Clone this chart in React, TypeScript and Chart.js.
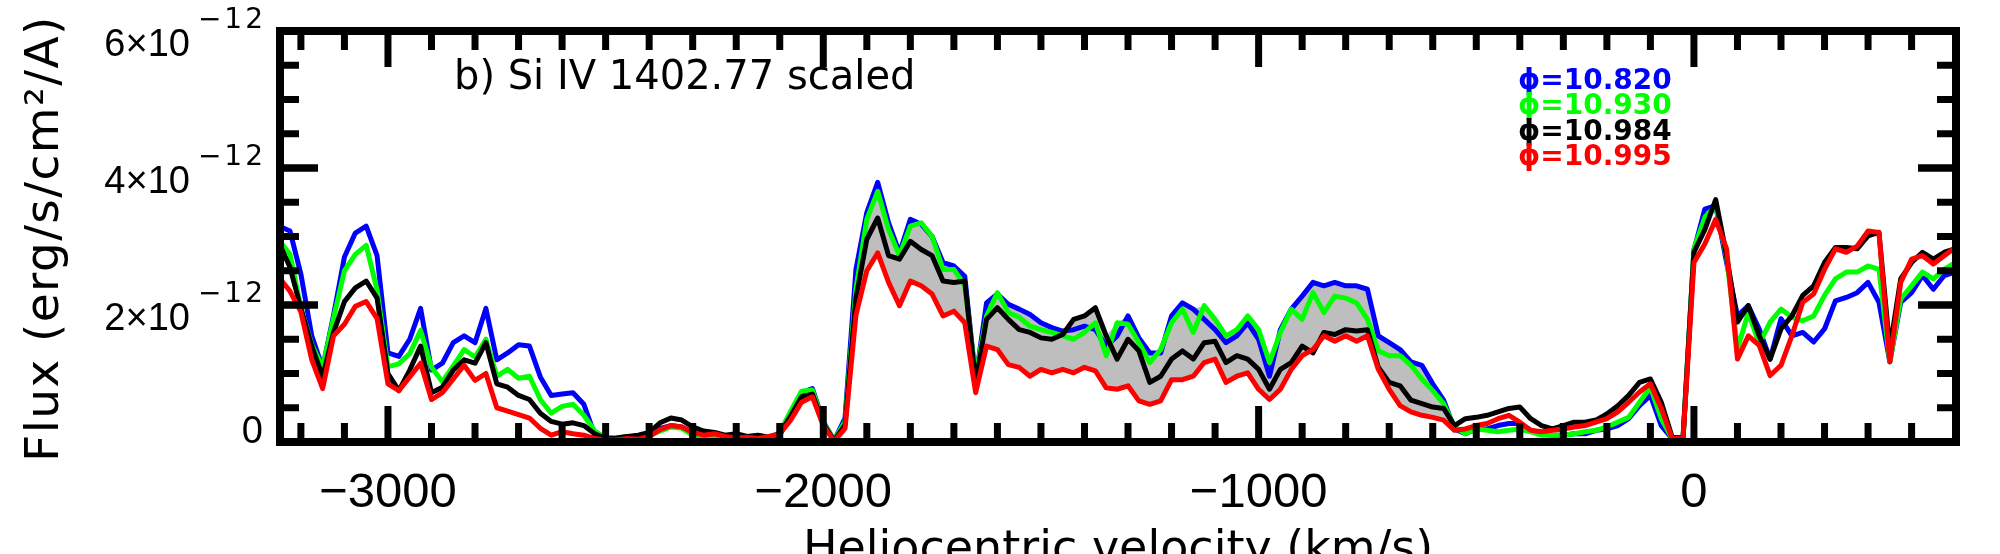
import React, { useEffect, useRef } from "react";
import { Chart, registerables } from "chart.js";

Chart.register(...registerables);

// Heliocentric velocity grid (km/s)
const VELOCITY = [
  -3250, -3225, -3200, -3175, -3150, -3125, -3100, -3075, -3050, -3025,
  -3000, -2975, -2950, -2925, -2900, -2875, -2850, -2825, -2800, -2775,
  -2750, -2725, -2700, -2675, -2650, -2625, -2600, -2575, -2550, -2525,
  -2500, -2475, -2450, -2425, -2400, -2375, -2350, -2325, -2300, -2275,
  -2250, -2225, -2200, -2175, -2150, -2125, -2100, -2075, -2050, -2025,
  -2000, -1975, -1950, -1925, -1900, -1875, -1850, -1825, -1800, -1775,
  -1750, -1725, -1700, -1675, -1650, -1625, -1600, -1575, -1550, -1525,
  -1500, -1475, -1450, -1425, -1400, -1375, -1350, -1325, -1300, -1275,
  -1250, -1225, -1200, -1175, -1150, -1125, -1100, -1075, -1050, -1025,
  -1000, -975, -950, -925, -900, -875, -850, -825, -800, -775,
  -750, -725, -700, -675, -650, -625, -600, -575, -550, -525,
  -500, -475, -450, -425, -400, -375, -350, -325, -300, -275,
  -250, -225, -200, -175, -150, -125, -100, -75, -50, -25,
  0, 25, 50, 75, 100, 125, 150, 175, 200, 225,
  250, 275, 300, 325, 350, 375, 400, 425, 450, 475,
  500, 525, 550, 575, 600,
];

// Flux in units of 1e-12 erg/s/cm^2/A
const FLUX_PHI_10_820 = [
  3.15, 3.08, 2.45, 1.55, 1.08, 1.85, 2.7, 3.05, 3.15, 2.72,
  1.3, 1.25, 1.5, 1.95, 1.05, 1.15, 1.45, 1.55, 1.45, 1.95,
  1.2, 1.3, 1.42, 1.4, 0.95, 0.68, 0.7, 0.72, 0.55, 0.1,
  0.06, 0.05, 0.04, 0.09, 0.12, 0.2, 0.24, 0.22, 0.14, 0.1,
  0.12, 0.07, 0.08, 0.05, 0.06, 0.04, 0.1, 0.42, 0.72, 0.78,
  0.3, 0.02, 0.35, 2.52, 3.35, 3.79, 3.2, 2.76, 3.25, 3.18,
  3.0, 2.62, 2.57, 2.42, 0.9, 2.03, 2.16, 2.01, 1.94, 1.86,
  1.74, 1.67, 1.62, 1.64, 1.69, 1.64, 1.4, 1.55, 1.84, 1.52,
  1.3, 1.3, 1.84, 2.03, 1.94, 1.79, 1.64, 1.45, 1.55, 1.74,
  1.5, 0.96, 1.64, 1.94, 2.13, 2.33, 2.28, 2.33, 2.28, 2.28,
  2.23, 1.55, 1.45, 1.35, 1.17, 1.12, 0.85, 0.61, 0.19, 0.12,
  0.19, 0.19, 0.24, 0.27, 0.27, 0.17, 0.12, 0.1, 0.1, 0.12,
  0.12, 0.17, 0.19, 0.24, 0.34, 0.53, 0.68, 0.24, 0.05, 0.07,
  2.8, 3.4, 3.45, 2.62, 1.84, 1.99, 1.65, 1.21, 1.8, 1.55,
  1.6, 1.46, 1.65, 2.06, 2.11, 2.18, 2.33, 2.04, 1.17, 2.04,
  2.18, 2.43, 2.23, 2.43, 2.48,
];

const FLUX_PHI_10_930 = [
  2.94, 2.74, 1.96, 1.42, 1.09, 1.81, 2.5, 2.74, 2.87, 2.22,
  1.1, 1.14, 1.29, 1.63, 1.09, 0.88, 1.11, 1.35, 1.24, 1.5,
  0.96, 1.06, 0.93, 0.96, 0.62, 0.42, 0.52, 0.55, 0.39, 0.16,
  0.06, 0.06, 0.08, 0.07, 0.1, 0.16, 0.22, 0.2, 0.1, 0.06,
  0.08, 0.06, 0.05, 0.07, 0.05, 0.06, 0.14, 0.45, 0.74, 0.76,
  0.28, 0.03, 0.3, 2.23, 3.25, 3.66, 3.1, 2.72, 3.15, 3.2,
  3.0, 2.52, 2.52, 2.28, 0.96, 1.84, 2.18, 1.89, 1.82, 1.69,
  1.64, 1.6, 1.55, 1.5, 1.6, 1.74, 1.26, 1.74, 1.72, 1.45,
  1.16, 1.35, 1.74, 1.94, 1.6, 1.99, 1.79, 1.55, 1.64, 1.84,
  1.64, 1.16, 1.6, 1.94, 1.79, 2.18, 1.89, 2.13, 2.1, 2.03,
  1.79, 1.33, 1.26, 1.26, 1.12, 0.92, 0.75, 0.56, 0.22, 0.12,
  0.19, 0.17, 0.15, 0.17, 0.19, 0.15, 0.1, 0.1, 0.1, 0.12,
  0.15, 0.17, 0.22, 0.29, 0.36, 0.58, 0.8, 0.34, 0.05, 0.05,
  2.82, 3.28, 3.45, 2.7, 1.36, 1.89, 1.43, 1.75, 1.94, 1.82,
  1.77, 1.84, 2.14, 2.38, 2.48, 2.48, 2.57, 2.52, 1.17, 2.09,
  2.28, 2.48, 2.38, 2.52, 2.62,
];

const FLUX_PHI_10_984 = [
  2.9, 2.55, 1.95, 1.4, 0.95, 1.6, 2.05, 2.25, 2.35, 2.1,
  1.0, 0.75, 1.05, 1.4, 0.72, 0.8, 1.05, 1.2, 1.15, 1.45,
  0.85, 0.8, 0.68, 0.62, 0.42, 0.3, 0.26, 0.28, 0.24, 0.12,
  0.05, 0.06, 0.08, 0.1, 0.14, 0.28, 0.35, 0.32, 0.22, 0.16,
  0.14, 0.1, 0.12, 0.08, 0.1, 0.07, 0.12, 0.38, 0.66, 0.7,
  0.26, 0.02, 0.25, 2.1, 2.96, 3.27, 2.72, 2.67, 2.93, 2.81,
  2.72, 2.35, 2.33, 2.35, 0.87, 1.79, 1.96, 1.79, 1.64, 1.6,
  1.52, 1.5, 1.57, 1.79, 1.84, 1.96, 1.55, 1.21, 1.5, 1.33,
  0.87, 0.96, 1.21, 1.33, 1.21, 1.45, 1.47, 1.16, 1.26, 1.21,
  1.06, 0.77, 1.06, 1.16, 1.4, 1.3, 1.6, 1.57, 1.64, 1.62,
  1.64, 1.09, 0.87, 0.82, 0.61, 0.56, 0.51, 0.49, 0.24, 0.34,
  0.36, 0.39, 0.44, 0.49, 0.51, 0.34, 0.24, 0.19, 0.24, 0.29,
  0.29, 0.32, 0.41, 0.53, 0.68, 0.87, 0.92, 0.58, 0.07, 0.05,
  2.77, 3.1, 3.54, 2.72, 1.75, 1.99, 1.55, 1.21, 1.65, 1.84,
  2.14, 2.28, 2.62, 2.84, 2.84, 2.82, 3.01, 3.06, 1.36, 2.38,
  2.62, 2.77, 2.67, 2.77, 2.82,
];

const FLUX_PHI_10_995 = [
  2.4, 2.2, 1.9, 1.2, 0.78, 1.55, 1.72, 1.98, 2.05, 1.8,
  0.85, 0.75, 0.95, 1.15, 0.62, 0.72, 0.92, 1.12, 0.9, 1.0,
  0.5, 0.45, 0.4, 0.35, 0.2, 0.1, 0.15, 0.12, 0.1, 0.05,
  0.03, 0.03, 0.05, 0.04, 0.08, 0.18, 0.24, 0.22, 0.14, 0.1,
  0.12, 0.08, 0.06, 0.07, 0.05, 0.08, 0.12, 0.32, 0.58, 0.66,
  0.24, 0.01, 0.2, 1.85, 2.5, 2.76, 2.33, 1.99, 2.35, 2.28,
  2.16, 1.84, 1.91, 1.74, 0.72, 1.4, 1.35, 1.13, 1.09, 0.96,
  1.06, 1.01, 1.06, 1.01, 1.09, 1.04, 0.79, 0.77, 0.82, 0.6,
  0.55, 0.6, 0.91, 0.91, 0.96, 1.16, 1.21, 0.87, 0.96, 1.01,
  0.77, 0.62, 0.77, 1.06, 1.26, 1.35, 1.55, 1.47, 1.55, 1.47,
  1.55, 1.06, 0.77, 0.53, 0.44, 0.39, 0.36, 0.32, 0.17, 0.19,
  0.24, 0.27, 0.34, 0.39, 0.29, 0.17, 0.15, 0.17, 0.19, 0.22,
  0.24, 0.29, 0.34, 0.44, 0.58, 0.73, 0.85, 0.49, 0.05, 0.05,
  2.62, 2.89, 3.25, 2.82, 1.21, 1.55, 1.41, 0.97, 1.12, 1.55,
  2.04, 2.16, 2.52, 2.82, 2.77, 2.86, 3.08, 3.06, 1.17, 2.33,
  2.67, 2.72, 2.6, 2.72, 2.84,
];

const PHASE_LABELS = ["\u03d5=10.820", "\u03d5=10.930", "\u03d5=10.984", "\u03d5=10.995"];
const SERIES_COLORS = ["#0000ff", "#00ff00", "#000000", "#ff0000"];

// Shaded band (velocity range, km/s)
const BAND_MIN = -1925;
const BAND_MAX = -550;

// Axes
const X_MIN = -3248;
const X_MAX = 602;
const Y_MIN = 0;
const Y_MAX = 6;
const X_MAJOR_TICKS = [-3000, -2000, -1000, 0];
const X_MINOR_TICKS = [
  -3200, -3100, -3000, -2900, -2800, -2700, -2600, -2500, -2400, -2300, -2200, -2100,
  -2000, -1900, -1800, -1700, -1600, -1500, -1400, -1300, -1200, -1100, -1000,
  -900, -800, -700, -600, -500, -400, -300, -200, -100, 0, 100, 200, 300, 400, 500,
];
const Y_MAJOR_TICKS = [0, 2, 4, 6];
const Y_MINOR_TICKS = [0.5, 1, 1.5, 2, 2.5, 3, 3.5, 4, 4.5, 5, 5.5];
const Y_EXPONENT = "\u221212";

const TITLE = "b) Si IV 1402.77 scaled";
const X_TITLE = "Heliocentric velocity (km/s)";
const Y_TITLE = "Flux (erg/s/cm\u00b2/A)";

const idlPlugin = {
  id: "idlFrame",
  afterDatasetsDraw(chart: any) {
    const { ctx, chartArea: a, scales } = chart;
    const xs = scales.x;
    const ys = scales.y;
    ctx.save();
    ctx.strokeStyle = "#000";
    ctx.fillStyle = "#000";
    ctx.lineCap = "butt";

    const seg = (x1: number, y1: number, x2: number, y2: number) => {
      ctx.beginPath();
      ctx.moveTo(x1, y1);
      ctx.lineTo(x2, y2);
      ctx.stroke();
    };

    ctx.lineWidth = 7;
    for (const v of X_MINOR_TICKS) {
      const px = xs.getPixelForValue(v);
      const len = X_MAJOR_TICKS.includes(v) ? 36 : 19;
      seg(px, a.bottom, px, a.bottom - len);
      seg(px, a.top, px, a.top + len);
    }
    for (const v of [...Y_MINOR_TICKS, ...Y_MAJOR_TICKS]) {
      const py = ys.getPixelForValue(v);
      const len = Y_MAJOR_TICKS.includes(v) ? 38 : 19;
      seg(a.left, py, a.left + len, py);
      seg(a.right, py, a.right - len, py);
    }

    ctx.lineWidth = 8;
    ctx.lineJoin = "miter";
    ctx.strokeRect(a.left, a.top, a.right - a.left, a.bottom - a.top);

    // x tick labels
    ctx.font = "49px 'Liberation Sans'";
    ctx.textAlign = "center";
    ctx.textBaseline = "alphabetic";
    for (const v of X_MAJOR_TICKS) {
      const px = xs.getPixelForValue(v);
      const txt = v < 0 ? "\u2212" + Math.abs(v) : String(v);
      ctx.fillText(txt, px, 507);
    }

    // y tick labels
    const rightEdge = a.left - 17;
    for (const v of Y_MAJOR_TICKS) {
      const py = ys.getPixelForValue(v);
      if (v === 0) {
        ctx.font = "38px 'Liberation Sans'";
        ctx.textAlign = "right";
        ctx.letterSpacing = "0px";
        ctx.fillText("0", rightEdge, py + 1);
        continue;
      }
      ctx.font = "28px 'DejaVu Sans'";
      ctx.letterSpacing = "3px";
      ctx.textAlign = "left";
      const sw = ctx.measureText(Y_EXPONENT).width;
      const sx = rightEdge - sw + 3;
      ctx.fillText(Y_EXPONENT, sx, py - 3);
      ctx.letterSpacing = "0px";
      ctx.font = "38px 'Liberation Sans'";
      ctx.textAlign = "right";
      ctx.fillText(v + "\u00d710", sx - 8, py + 25);
    }

    // Title inside the plot
    ctx.font = "40px 'DejaVu Sans'";
    ctx.textAlign = "left";
    ctx.fillText(TITLE, 454, 89);

    // Legend
    ctx.font = "bold 28px 'DejaVu Sans'";
    const ds = chart.data.datasets.filter((d: any) => d.isSeries);
    ds.forEach((d: any, i: number) => {
      ctx.fillStyle = d.borderColor;
      ctx.fillText(d.label, 1518, 89 + i * 25.3);
    });

    // Axis titles
    ctx.fillStyle = "#000";
    ctx.font = "46px 'DejaVu Sans'";
    ctx.textAlign = "center";
    ctx.fillText(X_TITLE, (a.left + a.right) / 2, 563);

    ctx.save();
    ctx.translate(58, (a.top + a.bottom) / 2 + 2);
    ctx.rotate(-Math.PI / 2);
    ctx.font = "47px 'DejaVu Sans'";
    ctx.letterSpacing = "1.4px";
    ctx.textAlign = "center";
    ctx.fillText(Y_TITLE, 0, 0);
    ctx.restore();

    ctx.restore();
  },
};

export default function App() {
  const canvasRef = useRef<HTMLCanvasElement | null>(null);

  useEffect(() => {
    document.body.style.margin = "0";
    const canvas = canvasRef.current;
    if (!canvas) return;

    const series = [FLUX_PHI_10_820, FLUX_PHI_10_930, FLUX_PHI_10_984, FLUX_PHI_10_995];
    const toPoints = (ys: number[]) => VELOCITY.map((v, i) => ({ x: v, y: ys[i] }));
    const bandIdx = VELOCITY.map((_, i) => i).filter(
      (i) => VELOCITY[i] >= BAND_MIN && VELOCITY[i] <= BAND_MAX
    );
    const bandUpper = bandIdx.map((i) => ({
      x: VELOCITY[i],
      y: Math.max(FLUX_PHI_10_820[i], FLUX_PHI_10_930[i], FLUX_PHI_10_984[i]),
    }));
    const bandLower = bandIdx.map((i) => ({ x: VELOCITY[i], y: FLUX_PHI_10_995[i] }));

    const datasets: any[] = [
      {
        label: "band-upper",
        data: bandUpper,
        borderColor: "rgba(0,0,0,0)",
        borderWidth: 1,
        backgroundColor: "#bebebe",
        pointRadius: 0,
        fill: 1,
        order: 10,
      },
      {
        label: "band-lower",
        data: bandLower,
        borderColor: "rgba(0,0,0,0)",
        borderWidth: 1,
        pointRadius: 0,
        fill: false,
        order: 11,
      },
      ...series.map((s, i) => ({
        label: PHASE_LABELS[i],
        isSeries: true,
        data: toPoints(s),
        borderColor: SERIES_COLORS[i],
        borderWidth: 5,
        pointRadius: 0,
        fill: false,
        tension: 0,
        borderJoinStyle: "round",
        order: 4 - i,
      })),
    ];

    const chart = new Chart(canvas, {
      type: "line",
      data: { datasets },
      options: {
        animation: false,
        responsive: false,
        devicePixelRatio: 1,
        events: [],
        layout: { padding: { left: 280, right: 44, top: 31, bottom: 112 } },
        plugins: { legend: { display: false }, tooltip: { enabled: false } },
        scales: {
          x: { type: "linear", min: X_MIN, max: X_MAX, display: false },
          y: { type: "linear", min: Y_MIN, max: Y_MAX, display: false },
        },
      },
      plugins: [idlPlugin],
    } as any);

    return () => chart.destroy();
  }, []);

  return (
    <div style={{ position: "absolute", left: 0, top: 0, width: 2000, height: 554, background: "#fff" }}>
      <canvas ref={canvasRef} width={2000} height={554} />
    </div>
  );
}
